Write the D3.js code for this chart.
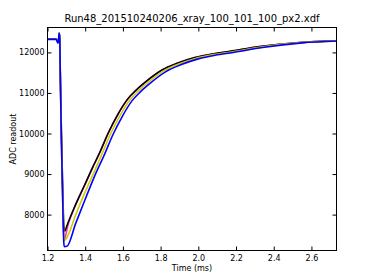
<!DOCTYPE html>
<html>
<head>
<meta charset="utf-8">
<script src="https://cdn.jsdelivr.net/npm/d3@7"></script>
<style>
  body { margin: 0; background: #fff; }
  text { font-family: "DejaVu Sans", sans-serif; }
</style>
</head>
<body>
<svg id="chart" width="374" height="280"></svg>
<script>
// time (ms) / ADC readout
const pinkT  = [1.2, 1.245, 1.252, 1.256, 1.259, 1.262, 1.265, 1.267, 1.272, 1.278, 1.284, 1.288, 1.296, 1.31, 1.34, 1.40, 1.44, 1.479, 1.521, 1.574, 1.627, 1.67, 1.717, 1.807, 1.8915, 1.9815, 2.071, 2.167, 2.325, 2.537, 2.733];
const pinkV  = [12330, 12330, 12280, 12240, 12320, 12470, 12340, 11700, 10200, 8900, 7700, 7360, 7480, 7760, 8140, 8750, 9165, 9548, 9995, 10475, 10855, 11065, 11258, 11563, 11736, 11871, 11957, 12022, 12142, 12245, 12285];

const blackT = [1.2, 1.245, 1.252, 1.256, 1.259, 1.262, 1.265, 1.268, 1.274, 1.28, 1.287, 1.292, 1.30, 1.34, 1.40, 1.44, 1.479, 1.521, 1.574, 1.627, 1.67, 1.717, 1.807, 1.8915, 1.9815, 2.071, 2.167, 2.325, 2.537, 2.733];
const blackV = [12330, 12330, 12290, 12250, 12330, 12480, 12350, 11500, 10000, 8800, 7700, 7590, 7690, 8150, 8760, 9170, 9550, 10000, 10480, 10860, 11070, 11260, 11565, 11737, 11872, 11958, 12025, 12143, 12246, 12285];

const yellowT = [1.2, 1.245, 1.252, 1.256, 1.259, 1.262, 1.265, 1.268, 1.274, 1.28, 1.287, 1.292, 1.30, 1.35, 1.40, 1.45, 1.493, 1.533, 1.586, 1.638, 1.68, 1.727, 1.816, 1.90, 1.99, 2.08, 2.176, 2.333, 2.543, 2.733];
const yellowV = [12325, 12325, 12280, 12240, 12335, 12475, 12340, 11450, 9900, 8650, 7500, 7370, 7410, 8000, 8560, 9080, 9540, 9975, 10455, 10835, 11045, 11235, 11543, 11720, 11857, 11945, 12010, 12132, 12241, 12283];

const blueT = [1.2, 1.245, 1.252, 1.256, 1.259, 1.262, 1.265, 1.268, 1.274, 1.28, 1.286, 1.289, 1.303, 1.35, 1.40, 1.45, 1.506, 1.545, 1.597, 1.648, 1.69, 1.737, 1.826, 1.91, 2.0, 2.09, 2.185, 2.34, 2.55, 2.733];
const blueV = [12320, 12320, 12260, 12230, 12340, 12470, 12330, 11400, 9800, 8500, 7350, 7210, 7220, 7790, 8380, 8950, 9523, 9950, 10425, 10805, 11015, 11210, 11520, 11700, 11840, 11930, 11997, 12120, 12235, 12280];

const xTicks = [1.2, 1.4, 1.6, 1.8, 2.0, 2.2, 2.4, 2.6];
const yTicks = [8000, 9000, 10000, 11000, 12000];

const series = [
    { t: pinkT, v: pinkV, color: "#ff33cc" },
    { t: blackT, v: blackV, color: "#000000" },
    { t: yellowT, v: yellowV, color: "#cccc00" },
    { t: blueT, v: blueV, color: "#0000ff" }
];

const svg = d3.select("#chart");
const mLeft = 47.5, mRight = 336.5, mTop = 27.5, mBottom = 250.5;

const x = d3.scaleLinear().domain([1.2, 2.733]).range([mLeft, mRight]);
const y = d3.scaleLinear().domain([7115, 12614]).range([mBottom, mTop]);

const plot = svg.append("g");
plot.append("clipPath").attr("id", "clip")
    .append("rect")
    .attr("x", mLeft).attr("y", mTop)
    .attr("width", mRight - mLeft).attr("height", mBottom - mTop);

const line = d3.line()
    .x(d => x(d[0]))
    .y(d => y(d[1]))
    .curve(d3.curveMonotoneX);

series.forEach(s => {
    plot.append("path")
        .datum(s.t.map((t, i) => [t, s.v[i]]))
        .attr("clip-path", "url(#clip)")
        .attr("d", line)
        .attr("fill", "none")
        .attr("stroke", s.color)
        .attr("stroke-width", 1.6)
        .attr("stroke-linejoin", "round");
});

// axes, ticks pointing inward on all four sides
const fmtX = d3.format(".1f");
const axB = svg.append("g").attr("transform", `translate(0,${mBottom})`)
    .call(d3.axisBottom(x).tickValues(xTicks).tickSize(-4).tickPadding(5).tickFormat(fmtX));
const axT = svg.append("g").attr("transform", `translate(0,${mTop})`)
    .call(d3.axisTop(x).tickValues(xTicks).tickSize(-4).tickFormat(""));
const axL = svg.append("g").attr("transform", `translate(${mLeft},0)`)
    .call(d3.axisLeft(y).tickValues(yTicks).tickSize(-4).tickPadding(3).tickFormat(d3.format("d")));
const axR = svg.append("g").attr("transform", `translate(${mRight},0)`)
    .call(d3.axisRight(y).tickValues(yTicks).tickSize(-4).tickFormat(""));

[axB, axT, axL, axR].forEach(a => {
    a.select(".domain").remove();
    a.selectAll("line").attr("stroke", "#000");
    a.selectAll("text").attr("fill", "#000").style("font-size", "8px");
});

svg.append("rect")
    .attr("x", mLeft).attr("y", mTop)
    .attr("width", mRight - mLeft).attr("height", mBottom - mTop)
    .attr("fill", "none").attr("stroke", "#000").attr("stroke-width", 1);

svg.append("text")
    .attr("x", (mLeft + mRight) / 2).attr("y", 22)
    .attr("text-anchor", "middle")
    .style("font-size", "10px")
    .text("Run48_201510240206_xray_100_101_100_px2.xdf");

svg.append("text")
    .attr("x", (mLeft + mRight) / 2).attr("y", 271)
    .attr("text-anchor", "middle")
    .style("font-size", "8px")
    .text("Time (ms)");

svg.append("text")
    .attr("transform", `translate(16,${(mTop + mBottom) / 2}) rotate(-90)`)
    .attr("text-anchor", "middle")
    .style("font-size", "8px")
    .text("ADC readout");
</script>
</body>
</html>
